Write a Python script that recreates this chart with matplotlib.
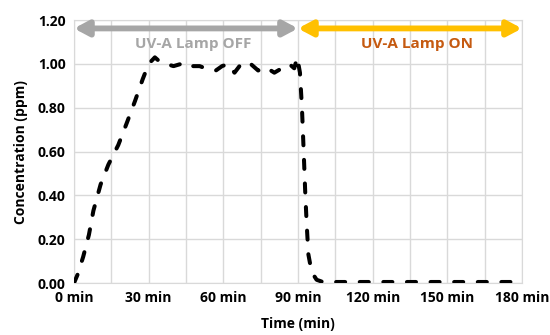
import matplotlib

matplotlib.use("Agg")
import matplotlib.pyplot as plt  # noqa: E402

# time (min) vs concentration (ppm)
time_min = [0, 1.5, 3.7, 6.0, 7.8, 10.7, 13.8, 17.8, 21.2, 24.5, 27.6, 30.0,
            32.5, 34.5, 37.0, 40.0, 43.0, 45.0, 47.5, 50.5, 54.0, 57.0, 59.5,
            62.0, 64.5, 66.5, 69.0, 71.0, 74.0, 77.0, 80.5, 83.5, 86.5, 88.5,
            89.7, 90.8, 91.6, 92.3, 92.9, 93.5, 94.2, 95.5, 97.5, 100, 105,
            110, 120, 130, 140, 150, 160, 170, 180]
conc_ppm = [0.00, 0.04, 0.12, 0.22, 0.33, 0.45, 0.54, 0.63, 0.73, 0.83, 0.93,
            1.00, 1.03, 1.01, 1.00, 0.99, 1.00, 0.985, 0.99, 0.99, 0.975,
            0.97, 0.99, 1.00, 0.96, 0.99, 1.01, 1.00, 0.97, 0.985, 0.96,
            0.98, 1.00, 0.98, 1.03, 0.96, 0.80, 0.60, 0.42, 0.27, 0.13,
            0.05, 0.015, 0.005, 0.005, 0.005, 0.005, 0.005, 0.005, 0.005,
            0.005, 0.005, 0.005]

x_ticks = [0, 30, 60, 90, 120, 150, 180]
x_tick_labels = [f"{t} min" for t in x_ticks]
y_ticks = [0.0, 0.2, 0.4, 0.6, 0.8, 1.0, 1.2]

phases = [("UV-A Lamp OFF", 0, 90), ("UV-A Lamp ON", 90, 180)]
arrow_colors = ["#A6A6A6", "#FFC000"]
text_colors = ["#A6A6A6", "#C55A11"]

plt.rcParams["font.family"] = ["Open Sans", "DejaVu Sans"]
plt.rcParams["lines.scale_dashes"] = False

fig = plt.figure(figsize=(5.5, 3.35), dpi=100)
ax = fig.add_axes([0.1345, 0.155, 0.8145, 0.785])

ax.plot(time_min, conc_ppm, color="black", lw=2.9, dashes=(6.5, 10.5),
        dash_capstyle="round", solid_joinstyle="round", zorder=3)

ax.set_xlim(0, 180)
ax.set_ylim(0, 1.2)
ax.set_xticks(x_ticks)
ax.set_xticklabels(x_tick_labels)
ax.set_xticks(range(15, 180, 30), minor=True)
ax.set_yticks(y_ticks)
ax.set_yticklabels([f"{v:.2f}" for v in y_ticks])
ax.tick_params(which="both", length=0, labelsize=10, pad=6)
for lab in ax.get_xticklabels() + ax.get_yticklabels():
    lab.set_fontweight("bold")
ax.grid(True, which="both", color="#D9D9D9", lw=1)
ax.set_axisbelow(True)
for sp in ax.spines.values():
    sp.set_color("#D9D9D9")

ax.set_xlabel("Time (min)", fontsize=10, fontweight="bold", labelpad=8)
ax.set_ylabel("Concentration (ppm)", fontsize=10, fontweight="bold", labelpad=7)

for (label, x0, x1), ac, tc in zip(phases, arrow_colors, text_colors):
    ax.annotate("", xy=(x1, 1.162), xytext=(x0, 1.162),
                arrowprops=dict(arrowstyle="<|-|>,head_length=0.6,head_width=0.32",
                                color=ac, lw=4.2, shrinkA=0, shrinkB=0,
                                mutation_scale=14),
                zorder=4)
    ax.text((x0 + x1) / 2 + 3, 1.09, label, color=tc, fontsize=11,
            fontweight="bold", ha="center", va="center", zorder=4)

fig.savefig("out.png", dpi=100)
